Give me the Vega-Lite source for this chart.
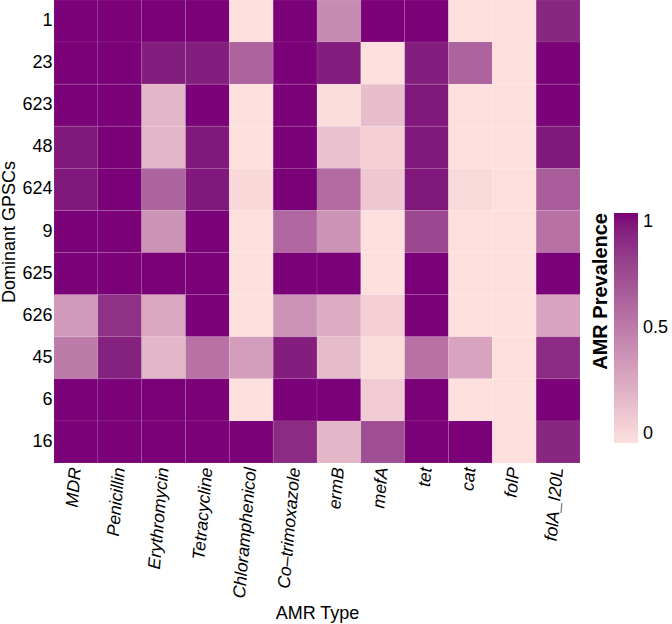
{
"$schema": "https://vega.github.io/schema/vega-lite/v6.json",
"autosize": "none",
"width": 526,
"height": 463,
"padding": {"left": 54, "top": 0, "right": 92, "bottom": 161},
"background": "white",
"config": {"font": "Liberation Sans", "view": {"stroke": null}},
"data": {"values": [
{"g":"1","a":"MDR","v":1},{"g":"1","a":"Penicillin","v":1},{"g":"1","a":"Erythromycin","v":1},{"g":"1","a":"Tetracycline","v":1},{"g":"1","a":"Chloramphenicol","v":0},{"g":"1","a":"Co–trimoxazole","v":1},{"g":"1","a":"ermB","v":0.42},{"g":"1","a":"mefA","v":1},{"g":"1","a":"tet","v":1},{"g":"1","a":"cat","v":0},{"g":"1","a":"folP","v":0},{"g":"1","a":"folA_I20L","v":0.9},
{"g":"23","a":"MDR","v":1},{"g":"23","a":"Penicillin","v":1},{"g":"23","a":"Erythromycin","v":0.93},{"g":"23","a":"Tetracycline","v":0.93},{"g":"23","a":"Chloramphenicol","v":0.62},{"g":"23","a":"Co–trimoxazole","v":1},{"g":"23","a":"ermB","v":0.93},{"g":"23","a":"mefA","v":0},{"g":"23","a":"tet","v":0.93},{"g":"23","a":"cat","v":0.62},{"g":"23","a":"folP","v":0},{"g":"23","a":"folA_I20L","v":1},
{"g":"623","a":"MDR","v":1},{"g":"623","a":"Penicillin","v":1},{"g":"623","a":"Erythromycin","v":0.2},{"g":"623","a":"Tetracycline","v":1},{"g":"623","a":"Chloramphenicol","v":0},{"g":"623","a":"Co–trimoxazole","v":1},{"g":"623","a":"ermB","v":0.02},{"g":"623","a":"mefA","v":0.17},{"g":"623","a":"tet","v":0.95},{"g":"623","a":"cat","v":0},{"g":"623","a":"folP","v":0},{"g":"623","a":"folA_I20L","v":1},
{"g":"48","a":"MDR","v":0.95},{"g":"48","a":"Penicillin","v":1},{"g":"48","a":"Erythromycin","v":0.2},{"g":"48","a":"Tetracycline","v":0.95},{"g":"48","a":"Chloramphenicol","v":0},{"g":"48","a":"Co–trimoxazole","v":1},{"g":"48","a":"ermB","v":0.15},{"g":"48","a":"mefA","v":0.08},{"g":"48","a":"tet","v":0.95},{"g":"48","a":"cat","v":0},{"g":"48","a":"folP","v":0},{"g":"48","a":"folA_I20L","v":0.95},
{"g":"624","a":"MDR","v":0.95},{"g":"624","a":"Penicillin","v":1},{"g":"624","a":"Erythromycin","v":0.62},{"g":"624","a":"Tetracycline","v":0.95},{"g":"624","a":"Chloramphenicol","v":0.04},{"g":"624","a":"Co–trimoxazole","v":1},{"g":"624","a":"ermB","v":0.58},{"g":"624","a":"mefA","v":0.12},{"g":"624","a":"tet","v":0.95},{"g":"624","a":"cat","v":0.03},{"g":"624","a":"folP","v":0},{"g":"624","a":"folA_I20L","v":0.65},
{"g":"9","a":"MDR","v":1},{"g":"9","a":"Penicillin","v":1},{"g":"9","a":"Erythromycin","v":0.38},{"g":"9","a":"Tetracycline","v":1},{"g":"9","a":"Chloramphenicol","v":0},{"g":"9","a":"Co–trimoxazole","v":0.6},{"g":"9","a":"ermB","v":0.38},{"g":"9","a":"mefA","v":0},{"g":"9","a":"tet","v":0.75},{"g":"9","a":"cat","v":0},{"g":"9","a":"folP","v":0},{"g":"9","a":"folA_I20L","v":0.55},
{"g":"625","a":"MDR","v":1},{"g":"625","a":"Penicillin","v":1},{"g":"625","a":"Erythromycin","v":1},{"g":"625","a":"Tetracycline","v":1},{"g":"625","a":"Chloramphenicol","v":0},{"g":"625","a":"Co–trimoxazole","v":1},{"g":"625","a":"ermB","v":1},{"g":"625","a":"mefA","v":0},{"g":"625","a":"tet","v":1},{"g":"625","a":"cat","v":0},{"g":"625","a":"folP","v":0},{"g":"625","a":"folA_I20L","v":1},
{"g":"626","a":"MDR","v":0.35},{"g":"626","a":"Penicillin","v":0.85},{"g":"626","a":"Erythromycin","v":0.28},{"g":"626","a":"Tetracycline","v":1},{"g":"626","a":"Chloramphenicol","v":0},{"g":"626","a":"Co–trimoxazole","v":0.38},{"g":"626","a":"ermB","v":0.25},{"g":"626","a":"mefA","v":0.08},{"g":"626","a":"tet","v":1},{"g":"626","a":"cat","v":0},{"g":"626","a":"folP","v":0},{"g":"626","a":"folA_I20L","v":0.3},
{"g":"45","a":"MDR","v":0.5},{"g":"45","a":"Penicillin","v":0.92},{"g":"45","a":"Erythromycin","v":0.2},{"g":"45","a":"Tetracycline","v":0.55},{"g":"45","a":"Chloramphenicol","v":0.33},{"g":"45","a":"Co–trimoxazole","v":0.93},{"g":"45","a":"ermB","v":0.18},{"g":"45","a":"mefA","v":0.02},{"g":"45","a":"tet","v":0.55},{"g":"45","a":"cat","v":0.3},{"g":"45","a":"folP","v":0},{"g":"45","a":"folA_I20L","v":0.88},
{"g":"6","a":"MDR","v":1},{"g":"6","a":"Penicillin","v":1},{"g":"6","a":"Erythromycin","v":1},{"g":"6","a":"Tetracycline","v":1},{"g":"6","a":"Chloramphenicol","v":0},{"g":"6","a":"Co–trimoxazole","v":1},{"g":"6","a":"ermB","v":1},{"g":"6","a":"mefA","v":0.1},{"g":"6","a":"tet","v":1},{"g":"6","a":"cat","v":0},{"g":"6","a":"folP","v":0},{"g":"6","a":"folA_I20L","v":1},
{"g":"16","a":"MDR","v":1},{"g":"16","a":"Penicillin","v":1},{"g":"16","a":"Erythromycin","v":1},{"g":"16","a":"Tetracycline","v":1},{"g":"16","a":"Chloramphenicol","v":1},{"g":"16","a":"Co–trimoxazole","v":0.88},{"g":"16","a":"ermB","v":0.2},{"g":"16","a":"mefA","v":0.72},{"g":"16","a":"tet","v":1},{"g":"16","a":"cat","v":1},{"g":"16","a":"folP","v":0},{"g":"16","a":"folA_I20L","v":0.9}
]},
"mark": {"type": "rect", "stroke": "white", "strokeWidth": 0.6, "strokeOpacity": 0.15},
"encoding": {
"x": {"field": "a", "type": "nominal",
 "sort": ["MDR","Penicillin","Erythromycin","Tetracycline","Chloramphenicol","Co–trimoxazole","ermB","mefA","tet","cat","folP","folA_I20L"],
 "scale": {"paddingInner": 0, "paddingOuter": 0},
 "axis": {"title": "AMR Type", "titleFontSize": 18, "titleFontWeight": "normal", "titleColor": "black", "titlePadding": 6,
  "labelFontSize": 17.5, "labelFontStyle": "italic", "labelColor": "black", "labelAngle": -85, "labelAlign": "right", "labelBaseline": "middle", "labelPadding": 4,
  "ticks": false, "domain": false, "grid": false}},
"y": {"field": "g", "type": "nominal",
 "sort": ["1","23","623","48","624","9","625","626","45","6","16"],
 "scale": {"paddingInner": 0, "paddingOuter": 0},
 "axis": {"title": "Dominant GPSCs", "titleFontSize": 18, "titleFontWeight": "normal", "titleColor": "black", "titlePadding": 3,
  "labelFontSize": 18, "labelColor": "black", "labelPadding": 2, "ticks": false, "domain": false, "grid": false}},
"color": {"field": "v", "type": "quantitative",
 "scale": {"domain": [0, 1], "range": ["#fde0dd", "#7a0177"], "interpolate": "lab"},
 "legend": {"title": "AMR Prevalence", "orient": "none", "legendX": 537, "legendY": 213, "direction": "vertical",
  "titleOrient": "left", "titleAngle": -90, "titleFontSize": 20, "titleFontWeight": "bold", "titleColor": "black", "titlePadding": 2, "titleAnchor": "end",
  "gradientLength": 230, "gradientThickness": 24, "gradientStrokeWidth": 0,
  "values": [0, 0.5, 1], "labelExpr": "datum.value + ''", "labelFontSize": 18, "labelColor": "black", "labelOffset": 5}}
}
}
